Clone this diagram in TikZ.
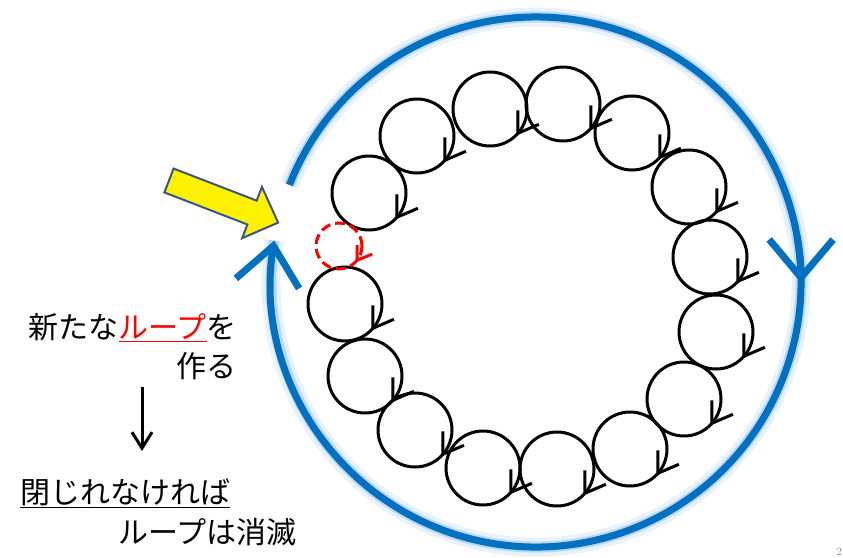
\documentclass[tikz,border=0pt]{standalone}
\usepackage{fontspec}
\newfontfamily\jpfont{Noto Sans CJK JP}
\usetikzlibrary{arrows.meta}

\definecolor{ringblue}{RGB}{0,112,192}
\definecolor{ringglow}{RGB}{150,195,245}
\definecolor{arrowrim}{RGB}{56,87,135}

\begin{document}
\begin{tikzpicture}[x=1pt,y=1pt]
\tikzstyle{ring halo}=[draw=ringglow!22, line width=19pt]
\tikzstyle{ring soft}=[draw=ringglow!65, line width=11pt]
\tikzstyle{ring line}=[draw=ringblue, line width=7pt]
\tikzstyle{ring barb}=[ring line, -{Straight Barb[length=38pt,width=64pt]}]
\tikzstyle{small loop}=
[
	draw, circle, line width=3pt,
	minimum size=74pt, inner sep=0pt, outer sep=0pt
]
\tikzstyle{loop barb}=[line width=3pt, line join=miter]
\tikzstyle{new loop}=[small loop, draw=red, dash pattern=on 10pt off 5pt, minimum size=46pt]
\tikzstyle{new barb}=[red, line width=3pt, line join=miter]
\tikzstyle{note}=[font=\jpfont\fontsize{30pt}{39pt}\selectfont, inner sep=0pt]
\tikzstyle{note arrow}=[line width=3pt, -{Straight Barb[length=16pt,width=20pt]}]

\useasboundingbox (0,0) rectangle (843,-557);

% the big loop
\coordinate (ring) at (536,-282);
\draw[ring halo] (ring) ++(158.5:265) arc[start angle=158.5, end angle=-189, radius=265];
\draw[ring soft] (ring) ++(158.5:265) arc[start angle=158.5, end angle=-189, radius=265];
\draw[ring barb] (ring) ++(158.5:265) arc[start angle=158.5, end angle=-189, radius=265];
\draw[ring barb] (ring) ++(10:265) arc[start angle=10, end angle=-0.2, radius=265];

% small loops along the ring
\node[small loop] (c1) at (417,-136) {};
\node[small loop] (c2) at (490,-109) {};
\node[small loop] (c3) at (563,-104) {};
\node[small loop] (c4) at (632,-133) {};
\node[small loop] (c5) at (689,-187) {};
\node[small loop] (c6) at (710,-257) {};
\node[small loop] (c7) at (716,-332) {};
\node[small loop] (c8) at (684,-399) {};
\node[small loop] (c9) at (630,-449) {};
\node[small loop] (c10) at (557,-469) {};
\node[small loop] (c11) at (483,-468) {};
\node[small loop] (c12) at (415,-430) {};
\node[small loop] (c13) at (365,-376) {};
\node[small loop] (c14) at (345,-304) {};
\node[small loop] (c15) at (369,-193) {};

% arrow heads of the small loops
\draw[loop barb] ([yshift=23pt]c1.-41) -- (c1.-41) -- ([shift={(21pt,9pt)}]c1.-41);
\draw[loop barb] ([yshift=23pt]c2.-41) -- (c2.-41) -- ([shift={(21pt,9pt)}]c2.-41);
\draw[loop barb] ([yshift=23pt]c3.-41) -- (c3.-41) -- ([shift={(21pt,9pt)}]c3.-41);
\draw[loop barb] ([yshift=23pt]c4.-41) -- (c4.-41) -- ([shift={(21pt,9pt)}]c4.-41);
\draw[loop barb] ([yshift=23pt]c5.-41) -- (c5.-41) -- ([shift={(21pt,9pt)}]c5.-41);
\draw[loop barb] ([yshift=23pt]c6.-41) -- (c6.-41) -- ([shift={(21pt,9pt)}]c6.-41);
\draw[loop barb] ([yshift=23pt]c7.-41) -- (c7.-41) -- ([shift={(21pt,9pt)}]c7.-41);
\draw[loop barb] ([yshift=23pt]c8.-41) -- (c8.-41) -- ([shift={(21pt,9pt)}]c8.-41);
\draw[loop barb] ([yshift=23pt]c9.-41) -- (c9.-41) -- ([shift={(21pt,9pt)}]c9.-41);
\draw[loop barb] ([yshift=23pt]c10.-41) -- (c10.-41) -- ([shift={(21pt,9pt)}]c10.-41);
\draw[loop barb] ([yshift=23pt]c11.-41) -- (c11.-41) -- ([shift={(21pt,9pt)}]c11.-41);
\draw[loop barb] ([yshift=23pt]c12.-41) -- (c12.-41) -- ([shift={(21pt,9pt)}]c12.-41);
\draw[loop barb] ([yshift=23pt]c13.-41) -- (c13.-41) -- ([shift={(21pt,9pt)}]c13.-41);
\draw[loop barb] ([yshift=23pt]c14.-41) -- (c14.-41) -- ([shift={(21pt,9pt)}]c14.-41);
\draw[loop barb] ([yshift=23pt]c15.-41) -- (c15.-41) -- ([shift={(21pt,9pt)}]c15.-41);

% the new loop
\node[new loop] (newloop) at (339,-246) {};
\draw[new barb] ([yshift=15pt]newloop.-38) -- (newloop.-38) -- ([shift={(15pt,6pt)}]newloop.-38);

% yellow arrow
\begin{scope}[shift={(169,-180.5)}, rotate=-21.1]
	\draw[arrowrim, line width=2pt, fill=yellow, line join=miter]
		(0,12.8) -- (89,12.8) -- (89,27.5) -- (117,0) -- (89,-27.5) -- (89,-12.8) -- (0,-12.8) -- cycle;
\end{scope}

% text on the left
\node[note, align=right, anchor=east] (make) at (237,-347)
	{新たな\textcolor{red}{\underline{ループ}}を\\作る};
\coordinate (from) at (142,-387);
\coordinate (to) at (142,-451);
\draw[note arrow] (from) -- (to);
\node[note, anchor=west] (close) at (20,-493) {\underline{閉じれなければ}};
\node[note, anchor=east] (vanish) at (297,-532) {ループは消滅};

\node[font=\fontsize{11pt}{11pt}\selectfont, text=gray, anchor=south east, inner sep=1pt] (page) at (843,-557) {2};
\end{tikzpicture}
\end{document}
